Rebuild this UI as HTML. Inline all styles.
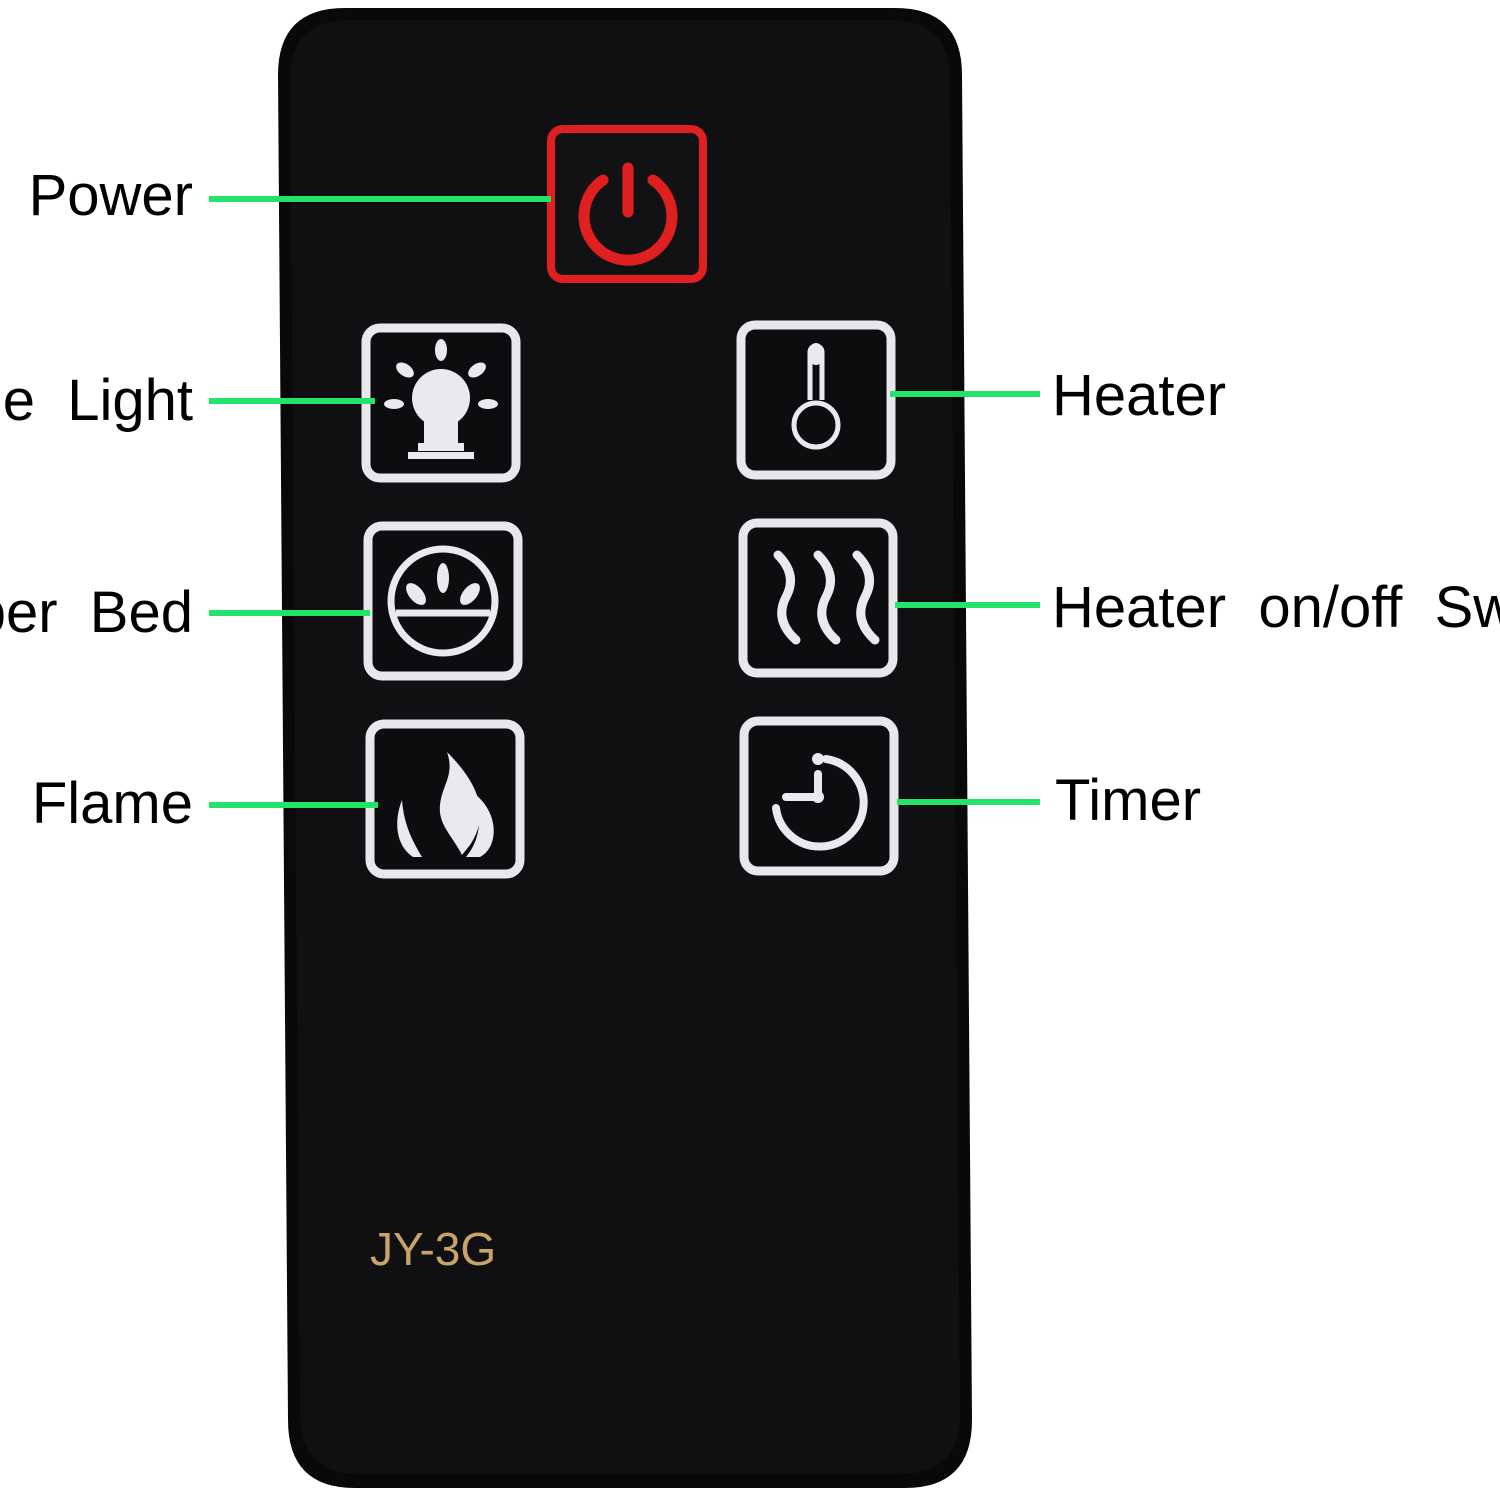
<!DOCTYPE html>
<html><head><meta charset="utf-8"><style>
html,body{margin:0;padding:0;background:#fff;}
svg{display:block;}
text{font-family:"Liberation Sans",sans-serif;}
</style></head><body>
<svg width="1500" height="1500" viewBox="0 0 1500 1500" xmlns="http://www.w3.org/2000/svg">
<rect width="1500" height="1500" fill="#fff"/>
<path d="M345 8 L895 8 Q962 8 962 75 L972 1420 Q972 1488 905 1488 L355 1488 Q288 1488 288 1420 L278 75 Q278 8 345 8 Z" fill="#09090a"/>
<path d="M350 20 L890 20 Q950 20 950 80 L960 1415 Q960 1474 900 1474 L360 1474 Q300 1474 300 1415 L290 80 Q290 20 350 20 Z" fill="#101012"/>
<rect x="551" y="129" width="152" height="150" rx="12" fill="#121214" stroke="#e02020" stroke-width="8"/>
<path d="M603 180 A44 44 0 1 0 653 180" fill="none" stroke="#e02020" stroke-width="11" stroke-linecap="round"/>
<line x1="628" y1="168" x2="628" y2="212" stroke="#e02020" stroke-width="11" stroke-linecap="round"/>
<g fill="#0d0d0f" stroke="#e6e8ec" stroke-width="9">
<rect x="366" y="328" width="150" height="150" rx="14"/>
<rect x="741" y="325" width="150" height="150" rx="14"/>
<rect x="368" y="526" width="150" height="150" rx="14"/>
<rect x="743" y="523" width="150" height="150" rx="14"/>
<rect x="370" y="724" width="150" height="150" rx="14"/>
<rect x="744" y="721" width="150" height="150" rx="14"/>
</g>
<g fill="#e8eaee">
<circle cx="441" cy="398" r="29"/>
<rect x="424" y="410" width="34" height="34"/>
<rect x="418" y="443" width="46" height="8"/>
<rect x="408" y="452" width="66" height="7"/>
<ellipse cx="441" cy="350" rx="6" ry="11"/>
<ellipse cx="405" cy="370" rx="10" ry="6" transform="rotate(35 405 370)"/>
<ellipse cx="477" cy="370" rx="10" ry="6" transform="rotate(-35 477 370)"/>
<ellipse cx="394" cy="404" rx="10" ry="5"/>
<ellipse cx="488" cy="404" rx="10" ry="5"/>
</g>
<g fill="none" stroke="#e8eaee" stroke-width="5">
<path d="M810 400 L810 352 A6 6 0 0 1 822 352 L822 400"/>
<circle cx="816" cy="425" r="22"/>
</g>
<rect x="810" y="343" width="12" height="22" rx="6" fill="#e8eaee"/>
<g fill="none" stroke="#e8eaee" stroke-width="7">
<circle cx="443" cy="601" r="52"/>
<line x1="396" y1="613" x2="490" y2="613"/>
</g>
<g fill="#e8eaee">
<ellipse cx="443" cy="578" rx="6" ry="15"/>
<ellipse cx="416" cy="594" rx="7" ry="13" transform="rotate(-40 416 594)"/>
<ellipse cx="470" cy="594" rx="7" ry="13" transform="rotate(40 470 594)"/>
</g>
<g fill="none" stroke="#e8eaee" stroke-width="9" stroke-linecap="round">
<path d="M778 555 Q798 575 786 597 Q774 620 796 640"/>
<path d="M818 555 Q838 575 826 597 Q814 620 836 640"/>
<path d="M857 555 Q877 575 865 597 Q853 620 875 640"/>
</g>
<g fill="#e8eaee">
<path d="M447 752 C480 785 490 815 470 845 L462 855 C452 835 438 825 440 805 C442 785 455 775 447 752 Z"/>
<path d="M402 800 C394 820 395 845 413 857 L422 857 C412 840 404 825 402 800 Z"/>
<path d="M476 795 C500 815 498 848 480 857 L466 857 C480 840 482 820 476 795 Z"/>
</g>
<g fill="none" stroke="#e8eaee" stroke-width="8" stroke-linecap="round">
<path d="M826 759 A44 44 0 1 1 776 808"/>
<line x1="818" y1="774" x2="818" y2="797"/>
<line x1="786" y1="797" x2="818" y2="797"/>
</g>
<circle cx="818" cy="759" r="6" fill="#e8eaee"/>
<circle cx="818" cy="797" r="6" fill="#e8eaee"/>
<g stroke="#22e46a" stroke-width="6">
<line x1="209" y1="199" x2="551" y2="199"/>
<line x1="209" y1="401" x2="375" y2="401"/>
<line x1="209" y1="613" x2="370" y2="613"/>
<line x1="209" y1="805" x2="378" y2="805"/>
<line x1="890" y1="394" x2="1040" y2="394"/>
<line x1="895" y1="605" x2="1040" y2="605"/>
<line x1="897" y1="802" x2="1040" y2="802"/>
</g>
<g font-size="58" fill="#000">
<text x="193" y="215" text-anchor="end">Power</text>
<text x="193" y="420" text-anchor="end" xml:space="preserve">Candle  Light</text>
<text x="193" y="632" text-anchor="end" xml:space="preserve">Ember  Bed</text>
<text x="193" y="823" text-anchor="end">Flame</text>
<text x="1052" y="415">Heater</text>
<text x="1052" y="627" xml:space="preserve">Heater  on/off  Switch</text>
<text x="1055" y="820">Timer</text>
</g>
<text x="370" y="1265" font-size="46" fill="#c9a46a">JY-3G</text>
</svg>
</body></html>
